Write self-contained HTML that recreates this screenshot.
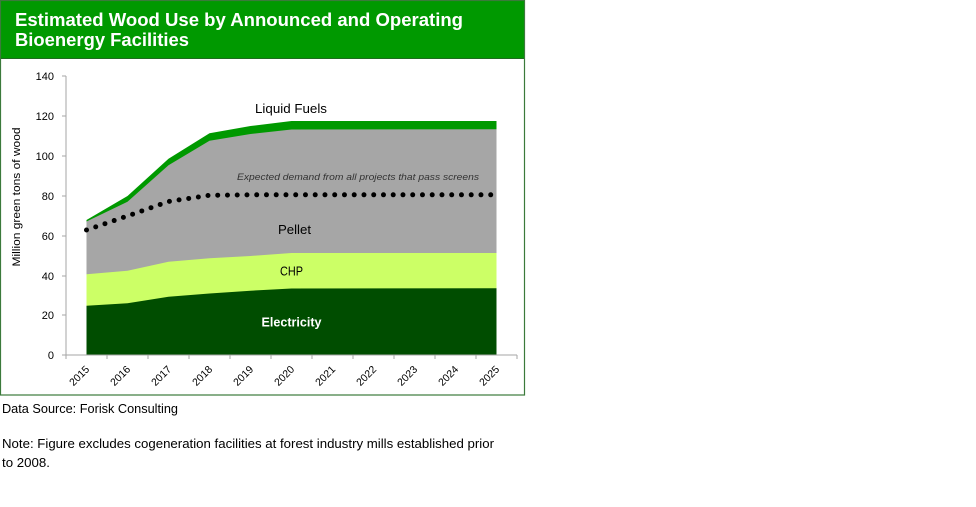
<!DOCTYPE html>
<html><head><meta charset="utf-8"><style>
html,body{margin:0;padding:0;background:#fff;}
svg{display:block;}
text{font-family:"Liberation Sans",Arial,sans-serif;}
</style></head><body>
<svg width="976" height="507" viewBox="0 0 976 507" xmlns="http://www.w3.org/2000/svg">
<!-- frame -->
<rect x="0" y="0" width="525" height="58.5" fill="#009900"/>
<line x1="0" y1="58.5" x2="525" y2="58.5" stroke="#1f6b1f" stroke-width="1"/>
<rect x="0.5" y="0.5" width="524" height="394.5" fill="none" stroke="#3b7a3b" stroke-width="1.2"/>
<text x="15" y="26" font-size="18.5" font-weight="bold" fill="#fff" textLength="448" lengthAdjust="spacingAndGlyphs">Estimated Wood Use by Announced and Operating</text>
<text x="15" y="46" font-size="18.5" font-weight="bold" fill="#fff" textLength="174" lengthAdjust="spacingAndGlyphs">Bioenergy Facilities</text>

<!-- areas -->
<polygon fill="#009900" points="86.5,220 127.5,196 168.5,158.7 209.5,133.3 250.5,126 291.5,121 496.5,121 496.5,355 86.5,355"/>
<polygon fill="#a6a6a6" points="86.5,221.5 127.5,201.7 168.5,165.3 209.5,140.7 250.5,134 291.5,129.5 496.5,129.3 496.5,355 86.5,355"/>
<polygon fill="#ccff66" points="86.5,274.3 127.5,270.7 168.5,261.7 209.5,258.3 250.5,256 291.5,253 496.5,253 496.5,355 86.5,355"/>
<polygon fill="#004d00" points="86.5,305.7 127.5,303.3 168.5,296.7 209.5,293.5 250.5,290.7 291.5,288.5 496.5,288.3 496.5,355 86.5,355"/>

<!-- dotted expected demand -->
<polyline fill="none" stroke="#000" stroke-width="5" stroke-linecap="round" stroke-dasharray="0 9.75" points="86.5,230 127.5,216 168.5,201.5 209.5,195.3 250.5,194.8 496.5,194.8"/>

<!-- axes -->
<g stroke="#a6a6a6" stroke-width="1">
<line x1="66" y1="76" x2="66" y2="355"/>
<line x1="66" y1="355" x2="517" y2="355"/>
<line x1="62" y1="76" x2="66" y2="76"/>
<line x1="62" y1="116" x2="66" y2="116"/>
<line x1="62" y1="156" x2="66" y2="156"/>
<line x1="62" y1="196" x2="66" y2="196"/>
<line x1="62" y1="236" x2="66" y2="236"/>
<line x1="62" y1="276" x2="66" y2="276"/>
<line x1="62" y1="315" x2="66" y2="315"/>
<line x1="62" y1="355" x2="66" y2="355"/>
<line x1="66" y1="355" x2="66" y2="359"/>
<line x1="107" y1="355" x2="107" y2="359"/>
<line x1="148" y1="355" x2="148" y2="359"/>
<line x1="189" y1="355" x2="189" y2="359"/>
<line x1="230" y1="355" x2="230" y2="359"/>
<line x1="271" y1="355" x2="271" y2="359"/>
<line x1="312" y1="355" x2="312" y2="359"/>
<line x1="353" y1="355" x2="353" y2="359"/>
<line x1="394" y1="355" x2="394" y2="359"/>
<line x1="435" y1="355" x2="435" y2="359"/>
<line x1="476" y1="355" x2="476" y2="359"/>
<line x1="517" y1="355" x2="517" y2="359"/>
</g>

<!-- y tick labels -->
<g font-size="11" fill="#000" text-anchor="end">
<text x="54" y="80">140</text>
<text x="54" y="120">120</text>
<text x="54" y="160">100</text>
<text x="54" y="200">80</text>
<text x="54" y="240">60</text>
<text x="54" y="280">40</text>
<text x="54" y="319">20</text>
<text x="54" y="359">0</text>
</g>
<text transform="translate(20,197) rotate(-90)" font-size="11" fill="#000" text-anchor="middle" textLength="139" lengthAdjust="spacingAndGlyphs">Million green tons of wood</text>

<!-- x tick labels -->
<g font-size="10.5" fill="#000" text-anchor="end">
<text transform="translate(90,370) rotate(-45)">2015</text>
<text transform="translate(131,370) rotate(-45)">2016</text>
<text transform="translate(172,370) rotate(-45)">2017</text>
<text transform="translate(213,370) rotate(-45)">2018</text>
<text transform="translate(254,370) rotate(-45)">2019</text>
<text transform="translate(295,370) rotate(-45)">2020</text>
<text transform="translate(336,370) rotate(-45)">2021</text>
<text transform="translate(377,370) rotate(-45)">2022</text>
<text transform="translate(418,370) rotate(-45)">2023</text>
<text transform="translate(459,370) rotate(-45)">2024</text>
<text transform="translate(500,370) rotate(-45)">2025</text>
</g>

<!-- series labels -->
<text x="255" y="113" font-size="13" fill="#000" textLength="72" lengthAdjust="spacingAndGlyphs">Liquid Fuels</text>
<text x="237" y="180" font-size="9.5" font-style="italic" fill="#333" textLength="242" lengthAdjust="spacingAndGlyphs">Expected demand from all projects that pass screens</text>
<text x="278" y="234" font-size="13" fill="#000" textLength="33" lengthAdjust="spacingAndGlyphs">Pellet</text>
<text x="280" y="275.5" font-size="13" fill="#000" textLength="23" lengthAdjust="spacingAndGlyphs">CHP</text>
<text x="261.5" y="326.5" font-size="13" font-weight="bold" fill="#fff" textLength="60" lengthAdjust="spacingAndGlyphs">Electricity</text>

<!-- notes -->
<text x="2" y="413" font-size="12.5" fill="#000" textLength="176" lengthAdjust="spacingAndGlyphs">Data Source: Forisk Consulting</text>
<text x="2" y="448" font-size="12.5" fill="#000" textLength="492" lengthAdjust="spacingAndGlyphs">Note: Figure excludes cogeneration facilities at forest industry mills established prior</text>
<text x="2" y="467" font-size="12.5" fill="#000" textLength="48" lengthAdjust="spacingAndGlyphs">to 2008.</text>
</svg>
</body></html>
